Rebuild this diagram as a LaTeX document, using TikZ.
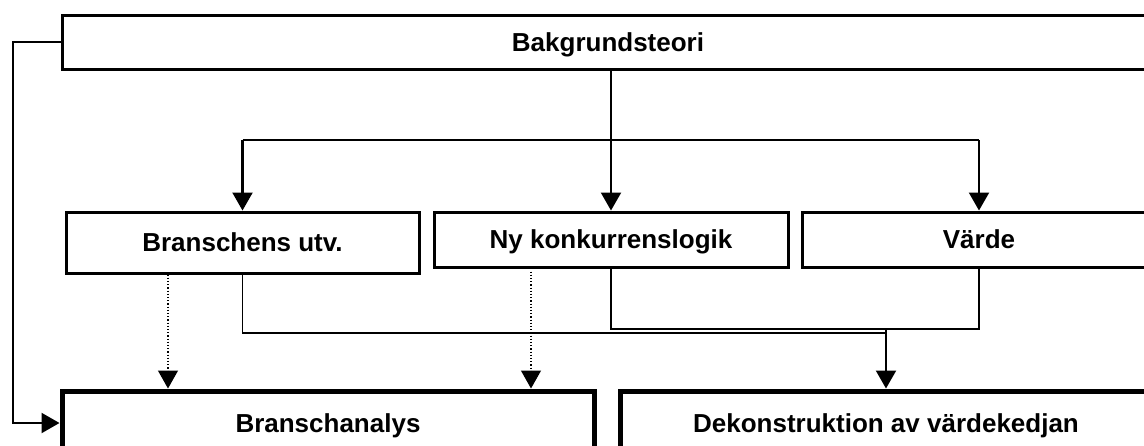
\documentclass[tikz,border=0pt]{standalone}
\usepackage{fontspec}
\setmainfont{Liberation Sans}
\usetikzlibrary{arrows.meta}
\begin{document}
\begin{tikzpicture}[x=1pt,y=-1pt,
  every node/.style={font=\fontsize{26}{30}\selectfont\bfseries, inner sep=0pt,
    text height=18.7pt, text depth=0pt},
  topbox/.style={draw, line width=3pt, rectangle},
  midbox/.style={draw, line width=3pt, rectangle},
  bigbox/.style={draw, line width=5pt, rectangle},
  link/.style={line width=2.2pt},
  thin link/.style={line width=1.8pt},
  arr/.style={-{Triangle[length=18pt,width=20pt]}},
  dots/.style={line width=1.2pt, dotted}]
\useasboundingbox (0,0) rectangle (1144,445);
\clip (0,0) rectangle (1144,445);

% boxes
\node[topbox, minimum width=1092pt, minimum height=54pt] (bak) at (608,42) {Bakgrundsteori};
\node[midbox, minimum width=353pt, minimum height=61pt] (bu) at (242.5,242.5) {Branschens utv.};
\node[midbox, minimum width=354pt, minimum height=55pt] (ny) at (611,239.5) {Ny konkurrenslogik};
\node[midbox, minimum width=354pt, minimum height=55pt] (va) at (979,239.5) {Värde};
\node[bigbox, minimum width=532pt, minimum height=64pt] (ba) at (328,423) {Branschanalys};
\node[bigbox, minimum width=532pt, minimum height=64pt] (dk) at (886,423) {Dekonstruktion av värdekedjan};

% helper coordinates
\coordinate (side) at (13,42);
\coordinate (split) at (611,140);
\coordinate (d1) at (168,0);
\coordinate (d2) at (531,0);

% background theory feeds the industry analysis directly
\draw[link, arr] (bak.west) -- (side) |- (ba.west);

% background theory splits into the three themes
\draw[link] (bak.south -| split) -- (split);
\draw[thin link] (split -| bu.north) -- (split -| va.north);
\draw[link, arr] (split -| bu.north) -- (bu.north);
\draw[link, arr] (split) -- (ny.north);
\draw[link, arr] (split -| va.north) -- (va.north);

% themes towards the value chain deconstruction
\draw[thin link] (bu.south) -- (bu.south |- 0,333) -- (dk.north |- 0,333);
\draw[thin link] (ny.south) -- (ny.south |- 0,329) -| (va.south);
\draw[link, arr] (dk.north |- 0,329) -- (dk.north);

% dotted influences on the industry analysis
\draw[dots, arr] (bu.south -| d1) -- (ba.north -| d1);
\draw[dots, arr] ([yshift=-3pt]ny.south -| d2) -- (ba.north -| d2);
\end{tikzpicture}
\end{document}
